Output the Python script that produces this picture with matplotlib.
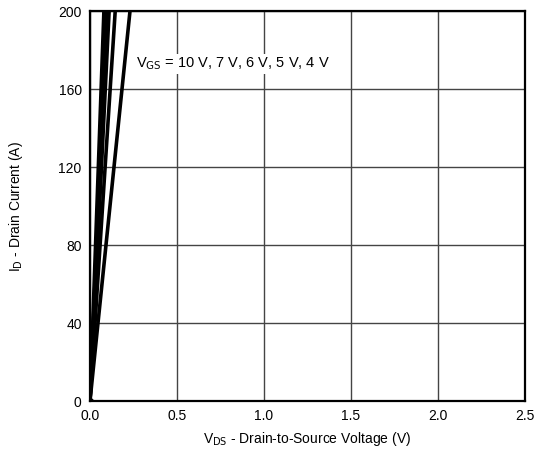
import matplotlib
matplotlib.use("Agg")
import matplotlib.pyplot as plt
import numpy as np

plt.rcParams['font.family'] = ['Liberation Sans', 'DejaVu Sans']

# V_DS at which each curve reaches 200 A
vgs_labels = ['10 V', '7 V', '6 V', '5 V', '4 V']
vds_end = [0.08, 0.095, 0.11, 0.145, 0.23]
id_end = 200

fig = plt.figure(figsize=(5.34, 4.62), dpi=100)
ax = fig.add_axes([0.1685, 0.132, 0.8145, 0.844])

for v in vds_end:
    ax.plot([0, v], [0, id_end], color='black', lw=2.6, solid_capstyle='butt', zorder=3)
ax.plot([0], [0], 'o', color='black', ms=4, zorder=4)

ax.set_xlim(0, 2.5)
ax.set_ylim(0, 200)
ax.set_xticks(np.arange(0, 2.51, 0.5))
ax.set_xticklabels(['0.0', '0.5', '1.0', '1.5', '2.0', '2.5'])
ax.set_yticks([0, 40, 80, 120, 160, 200])
ax.grid(True, color='#444444', lw=1.0)
ax.tick_params(length=0, labelsize=10, pad=6)
for s in ax.spines.values():
    s.set_linewidth(1.6)

ax.text(0.265, 173, r'V$_{\rm GS}$ = ' + ', '.join(vgs_labels), fontsize=10.5,
        va='center', ha='left', zorder=5,
        bbox=dict(facecolor='white', edgecolor='none', pad=1))

ax.set_xlabel(r'V$_{\rm DS}$ - Drain-to-Source Voltage (V)', fontsize=10, labelpad=5)
ax.set_ylabel(r'I$_{\rm D}$ - Drain Current (A)', fontsize=10, labelpad=24)

fig.savefig('out.png', dpi=100)
